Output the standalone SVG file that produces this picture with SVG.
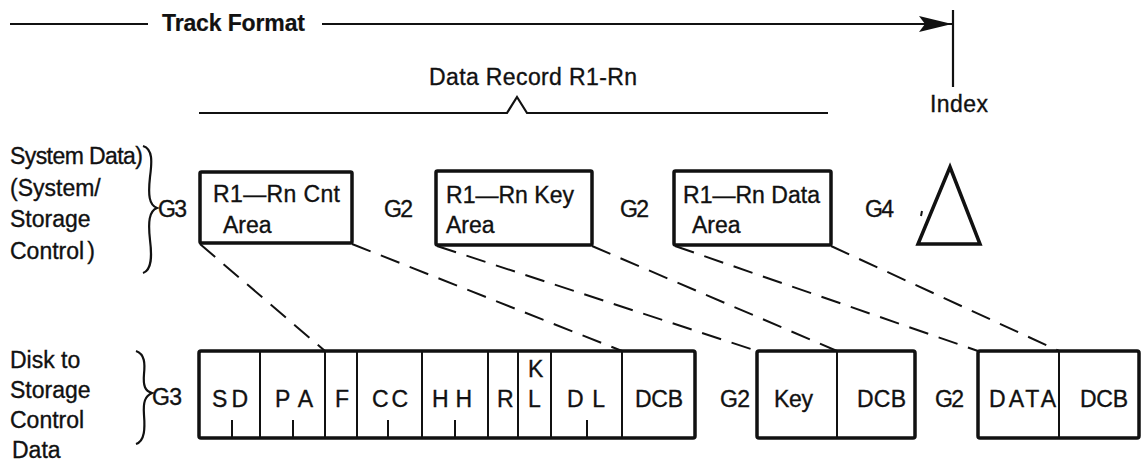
<svg xmlns="http://www.w3.org/2000/svg" width="1141" height="464" viewBox="0 0 1141 464">
  <style>
    text { font-family: "Liberation Sans", Arial, sans-serif; font-size: 23px; fill: #111; stroke: #111; stroke-width: 0.35; }
    .bold { font-weight: bold; stroke-width: 0.2; }
    .line { stroke: #111; stroke-width: 2.2; fill: none; }
    .box { stroke: #111; stroke-width: 3.5; fill: none; }
    .div { stroke: #111; stroke-width: 2; fill: none; }
    .dash { stroke: #111; stroke-width: 2; fill: none; stroke-dasharray: 20 11; }
  </style>
  <defs>
    <marker id="arrow" markerWidth="34" markerHeight="18" refX="33" refY="9" orient="auto" markerUnits="userSpaceOnUse">
      <path d="M0,1 L33,9 L0,17 L6,9 Z" fill="#111"/>
    </marker>
  </defs>
  <rect width="1141" height="464" fill="#fff"/>

  <!-- track format header -->
  <g id="track-format">
    <line class="line" x1="10" y1="24" x2="148" y2="24"/>
    <text class="bold" x="162" y="31" textLength="143">Track Format</text>
    <line class="line" x1="322" y1="24" x2="952" y2="24" marker-end="url(#arrow)"/>
  </g>

  <!-- index mark -->
  <g id="index">
    <line class="line" x1="953" y1="10" x2="953" y2="87" stroke-width="2.6"/>
    <text x="930" y="112" textLength="58">Index</text>
  </g>

  <!-- data record bracket -->
  <g id="data-record">
    <text x="429" y="85" textLength="208">Data Record R1-Rn</text>
    <path class="line" d="M199,113 L507,113 L517,97 L527,113 L828,113"/>
  </g>

  <!-- system data row -->
  <g id="system-label">
    <text x="10" y="164" textLength="133">System Data)</text>
    <text x="10" y="196">(System/</text>
    <text x="10" y="227">Storage</text>
    <text x="10" y="259">Control<tspan dx="3">)</tspan></text>
    <path class="line" stroke-width="2.5" d="M143,146 C153,149 152,162 150,177 C148,195 149,205 157,208 C149,211 148,222 150,240 C152,256 152,270 143,273"/>
    <text x="158" y="217" textLength="29">G3</text>
  </g>

  <g id="cnt-area">
    <rect class="box" x="200" y="172" width="152" height="71" rx="1.5"/>
    <text x="213" y="202" textLength="127">R1—Rn Cnt</text>
    <text x="223" y="233">Area</text>
  </g>

  <text x="384" y="217" textLength="29">G2</text>

  <g id="key-area">
    <rect class="box" x="436" y="171" width="156" height="74" rx="1.5"/>
    <text x="446" y="203" textLength="128">R1—Rn Key</text>
    <text x="446" y="233">Area</text>
  </g>

  <text x="620" y="217" textLength="29">G2</text>

  <g id="data-area">
    <rect class="box" x="674" y="171" width="157" height="74" rx="1.5"/>
    <text x="683" y="203" textLength="137">R1—Rn Data</text>
    <text x="692" y="233">Area</text>
  </g>

  <text x="865" y="217" textLength="29">G4</text>

  <g id="index-marker">
    <path d="M950,167 L980,244 L918,244 Z" fill="none" stroke="#111" stroke-width="3.5" stroke-linejoin="miter"/>
    <path d="M922,211 L921,216" stroke="#111" stroke-width="2"/>
  </g>

  <!-- disk to storage control row -->
  <g id="disk-label">
    <text x="10" y="368">Disk to</text>
    <text x="10" y="398">Storage</text>
    <text x="10" y="428">Control</text>
    <text x="12" y="458">Data</text>
    <path class="line" stroke-width="2.5" d="M136,351 C145,354 145,364 144,374 C143,386 145,391 152,393 C145,396 143,402 144,415 C145,428 145,441 136,444"/>
    <text x="152" y="405" textLength="30">G3</text>
  </g>

  <g id="count-field">
    <rect class="box" x="199" y="351" width="496" height="87" rx="2"/>
    <g class="div">
      <line x1="260" y1="351" x2="260" y2="438"/>
      <line x1="325" y1="351" x2="325" y2="438"/>
      <line x1="357" y1="351" x2="357" y2="438"/>
      <line x1="422" y1="351" x2="422" y2="438"/>
      <line x1="488" y1="351" x2="488" y2="438"/>
      <line x1="518" y1="351" x2="518" y2="438"/>
      <line x1="551" y1="351" x2="551" y2="438"/>
      <line x1="622" y1="351" x2="622" y2="438"/>
      <line x1="232" y1="420" x2="232" y2="438"/>
      <line x1="293" y1="420" x2="293" y2="438"/>
      <line x1="388" y1="420" x2="388" y2="438"/>
      <line x1="455" y1="420" x2="455" y2="438"/>
      <line x1="587" y1="420" x2="587" y2="438"/>
    </g>
    <text x="212" y="407" textLength="36">S D</text>
    <text x="275" y="407" textLength="38">P A</text>
    <text x="335" y="407">F</text>
    <text x="372" y="407" textLength="36">C C</text>
    <text x="432" y="407" textLength="40">H H</text>
    <text x="497" y="407">R</text>
    <text x="528" y="377">K</text>
    <text x="528" y="407">L</text>
    <text x="567" y="407" textLength="38">D L</text>
    <text x="635" y="407" textLength="48">DCB</text>
  </g>

  <text x="720" y="407" textLength="30">G2</text>

  <g id="key-field">
    <rect class="box" x="757" y="351" width="158" height="87" rx="2"/>
    <line class="div" x1="837" y1="351" x2="837" y2="438"/>
    <text x="774" y="407" textLength="39">Key</text>
    <text x="857" y="407" textLength="49">DCB</text>
  </g>

  <text x="935" y="407" textLength="29">G2</text>

  <g id="data-field">
    <rect class="box" x="978" y="351" width="161" height="87" rx="2"/>
    <line class="div" x1="1059" y1="351" x2="1059" y2="438"/>
    <text x="989" y="407" textLength="67">DATA</text>
    <text x="1080" y="407" textLength="48">DCB</text>
  </g>

  <!-- projection lines from system areas to disk fields -->
  <g id="connectors">
    <line class="dash" x1="200" y1="244" x2="325" y2="351"/>
    <line class="dash" x1="352" y1="244" x2="622" y2="351"/>
    <line class="dash" x1="437" y1="246" x2="757" y2="351"/>
    <line class="dash" x1="592" y1="246" x2="837" y2="351"/>
    <line class="dash" x1="675" y1="246" x2="978" y2="351"/>
    <line class="dash" x1="831" y1="246" x2="1059" y2="351"/>
  </g>
</svg>
